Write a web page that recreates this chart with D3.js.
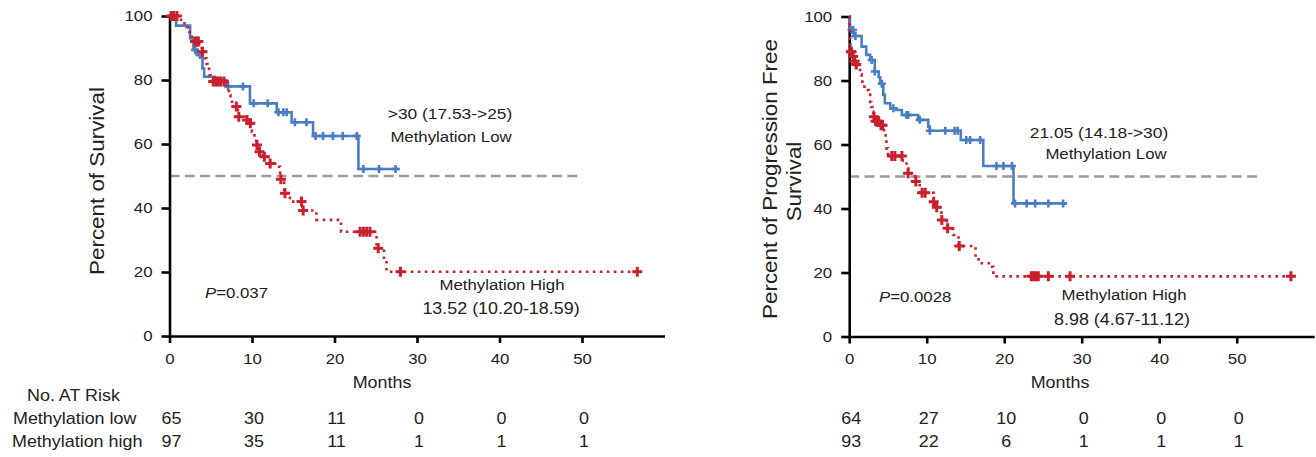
<!DOCTYPE html>
<html>
<head>
<meta charset="utf-8">
<script src="https://cdn.jsdelivr.net/npm/d3@7"></script>
<style>
  html, body { margin: 0; padding: 0; background: #fff; }
  svg { display: block; }
  text { font-family: "Liberation Sans", Arial, Helvetica, sans-serif; fill: #222; }
</style>
</head>
<body>
<svg id="chart" width="1316" height="457"></svg>
<script>
// Axis ticks
const timeTicks = [0, 10, 20, 30, 40, 50];
const pctTicks = [0, 20, 40, 60, 80, 100];

// Overall survival, methylation low: step times (months) and survival (%) after each step
const osLowTime = [0, 0.8, 2.5, 2.9, 3.3, 4.0, 4.2, 5.5, 6.9, 9.75, 13.0, 14.8, 17.4, 22.9];
const osLowSurv = [100, 97, 93, 89.4, 87.8, 83.6, 81, 80, 78, 72.7, 69.9, 66.8, 62.5, 52.2];
const osLowCensor = [0.3, 3.1, 3.7, 7.1, 8.9, 10.2, 11.9, 13.2, 13.8, 14.2, 15.2, 16.6, 17.7, 18.6, 19.8, 21.0, 22.7, 23.5, 25.4, 27.4];
const osLowEnd = 27.9;

// Overall survival, methylation high
const osHighTime = [0, 1.4, 2.1, 2.4, 2.7, 3.0, 3.6, 3.9, 4.3, 4.5, 4.6, 4.8, 5.0, 7.0, 7.2, 7.4, 7.8, 8.3, 9.2, 9.6, 10.0, 10.3, 10.5, 10.8, 11.3, 12.0, 12.8, 13.4, 13.9, 14.6, 16.1, 17.8, 20.8, 25.1, 26.0, 26.3];
const osHighSurv = [100, 97.7, 96.5, 95, 93.5, 92, 90.5, 88.8, 86.8, 85, 83.5, 81.5, 79.5, 77, 75.3, 73.2, 71.7, 68.5, 67.5, 66.5, 63.8, 61.5, 59.7, 57.6, 56, 53.9, 52.9, 49, 44.6, 42, 39.2, 36.3, 32.6, 27.4, 23.7, 20.1];
const osHighCensor = [0.2, 0.5, 0.9, 3.1, 3.3, 3.5, 4.0, 5.3, 5.6, 5.9, 6.2, 6.6, 8.1, 8.4, 9.4, 9.8, 10.6, 10.9, 11.5, 12.2, 13.5, 14.0, 16.0, 16.2, 23.1, 23.5, 23.9, 24.3, 25.3, 28.0, 56.7];
const osHighEnd = 56.7;

// Progression-free survival, methylation low
const pfsLowTime = [0, 0.1, 0.6, 1.6, 2.2, 2.7, 3.3, 3.8, 4.0, 4.4, 4.6, 5.3, 6.1, 6.8, 8.9, 10.2, 10.4, 14.4, 17.3, 21.2];
const pfsLowSurv = [100, 95.8, 93.9, 90.6, 88, 86.4, 82.8, 81, 79, 75.5, 72.9, 71.3, 70.8, 69.2, 67.7, 65.6, 64.3, 61.4, 53.3, 41.6];
const pfsLowCensor = [0.3, 0.5, 0.8, 2.9, 3.3, 4.2, 5.7, 7.4, 7.6, 9.1, 10.4, 12.4, 13.6, 14.0, 15.1, 15.6, 16.9, 19.0, 19.9, 21.0, 21.4, 22.9, 24.0, 25.7, 27.6];
const pfsLowEnd = 28.0;

// Progression-free survival, methylation high
const pfsHighTime = [0, 0.05, 0.1, 0.15, 0.4, 0.6, 0.8, 1.0, 1.4, 1.6, 1.7, 2.2, 2.5, 2.7, 2.85, 3.0, 3.1, 3.3, 4.0, 4.5, 4.7, 4.8, 5.0, 6.9, 7.4, 7.6, 8.5, 9.1, 10.9, 11.2, 11.9, 12.6, 13.4, 14.1, 16.3, 16.7, 18.2, 18.6];
const pfsHighSurv = [100, 97, 93, 89, 87.5, 86, 85, 83.3, 81.9, 80.1, 78.1, 77, 75.6, 73.3, 71.7, 70.3, 68.7, 67.3, 66, 64.5, 61.9, 58.8, 56.4, 54.5, 52.6, 51, 48.4, 44.9, 42.1, 40.4, 36.4, 33.8, 31.7, 28.3, 24.9, 22.9, 21.8, 18.8];
const pfsHighCensor = [0.2, 0.3, 0.5, 0.7, 0.9, 3.2, 3.4, 3.6, 3.8, 4.1, 4.3, 5.5, 5.9, 6.8, 7.6, 8.6, 9.4, 9.8, 10.9, 11.3, 11.95, 12.7, 14.2, 23.5, 23.8, 24.1, 24.4, 25.7, 28.5, 57.0];
const pfsHighEnd = 57.0;

// Numbers at risk
const riskTime = [0, 10, 20, 30, 40, 50];
const osRiskLow = [65, 30, 11, 0, 0, 0];
const osRiskHigh = [97, 35, 11, 1, 1, 1];
const pfsRiskLow = [64, 27, 10, 0, 0, 0];
const pfsRiskHigh = [93, 22, 6, 1, 1, 1];

const BLUE = "#4a7dc3";
const RED = "#c8202c";
const SX = 1.12; // horizontal stretch of the lettering

const svg = d3.select("#chart");
svg.append("rect").attr("width", 1316).attr("height", 457).attr("fill", "#fff");

function label(g, x, y, str, size, anchor = "middle", rotate = false) {
  return g.append("text")
    .attr("transform", `translate(${x},${y})${rotate ? " rotate(-90)" : ""} scale(${SX},1)`)
    .attr("text-anchor", anchor)
    .style("font-size", size + "px")
    .text(str);
}

function survAt(time, surv, t) {
  let s = surv[0];
  for (let i = 0; i < time.length; i++) if (time[i] <= t) s = surv[i];
  return s;
}

function drawCurve(g, x, y, time, surv, end, censor, style) {
  const pts = time.map((t, i) => [t, surv[i]]);
  pts.push([end, surv[surv.length - 1]]);
  const line = d3.line().x(d => x(d[0])).y(d => y(d[1])).curve(d3.curveStepAfter);
  const path = g.append("path")
    .attr("d", line(pts))
    .attr("fill", "none")
    .attr("stroke", style.color)
    .attr("stroke-width", style.width);
  if (style.dash) path.attr("stroke-dasharray", style.dash);
  const s = style.mark;
  g.append("g").selectAll("path").data(censor).join("path")
    .attr("d", t => {
      const cx = x(t), cy = y(survAt(time, surv, t));
      return `M${cx - s},${cy}H${cx + s}M${cx},${cy - s}V${cy + s}`;
    })
    .attr("stroke", style.color)
    .attr("stroke-width", style.markWidth)
    .attr("fill", "none");
}

function drawPanel(p) {
  const g = svg.append("g");
  const x = d3.scaleLinear().domain([0, 60]).range(p.xRange);
  const y = d3.scaleLinear().domain([0, 100]).range(p.yRange);

  // median reference line
  g.append("line")
    .attr("x1", x(0)).attr("x2", x(p.medianEnd))
    .attr("y1", y(50)).attr("y2", y(50))
    .attr("stroke", "#9b9b9b").attr("stroke-width", 2.6)
    .attr("stroke-dasharray", "10,5.3");

  // axes
  const yAxis = g.append("g").attr("transform", `translate(${x(0)},0)`)
    .call(d3.axisLeft(y).tickValues(pctTicks).tickSize(8).tickSizeOuter(0).tickPadding(7.2));
  const xAxis = g.append("g").attr("transform", `translate(0,${y(0)})`)
    .call(d3.axisBottom(x).tickValues(timeTicks).tickSize(7).tickSizeOuter(0).tickPadding(10));
  [yAxis, xAxis].forEach(a => {
    a.select(".domain").attr("stroke", "#000").attr("stroke-width", 2.6);
    a.selectAll(".tick line").attr("stroke", "#000").attr("stroke-width", 2.6);
    a.selectAll(".tick text")
      .attr("transform", `scale(${SX},1)`)
      .style("font-size", "15px")
      .style("font-family", '"Liberation Sans", Arial, sans-serif')
      .attr("fill", "#222");
  });

  // y title
  p.yTitle.forEach(t => label(g, t.x, t.y, t.text, 20, "middle", true));
  // x title
  label(g, p.monthsX, 388, "Months", 16);

  // curves
  drawCurve(g, x, y, p.low.time, p.low.surv, p.low.end, p.low.censor,
    { color: BLUE, width: 2.6, mark: 4, markWidth: 2.6 });
  drawCurve(g, x, y, p.high.time, p.high.surv, p.high.end, p.high.censor,
    { color: RED, width: 2.6, dash: "2.6,4.4", mark: 5, markWidth: 3 });

  // annotations
  p.notes.forEach(n => label(g, n.x, n.y, n.text, n.size));
  const pv = g.append("text")
    .attr("transform", `translate(${p.pval.x},${p.pval.y}) scale(${SX},1)`)
    .style("font-size", "15px");
  pv.append("tspan").style("font-style", "italic").text("P");
  pv.append("tspan").text("=" + p.pval.text);

  // numbers at risk
  riskTime.forEach((t, i) => {
    label(g, x(t) + 2, 424, String(p.riskLow[i]), 16);
    label(g, x(t) + 2, 447, String(p.riskHigh[i]), 16);
  });
}

drawPanel({
  xRange: [169.5, 664.5], yRange: [336, 16], medianEnd: 50, monthsX: 382,
  yTitle: [{ x: 104, y: 181, text: "Percent of Survival" }],
  low: { time: osLowTime, surv: osLowSurv, end: osLowEnd, censor: osLowCensor },
  high: { time: osHighTime, surv: osHighSurv, end: osHighEnd, censor: osHighCensor },
  notes: [
    { x: 450, y: 119, text: ">30 (17.53->25)", size: 15.5 },
    { x: 451, y: 142, text: "Methylation Low", size: 15 },
    { x: 502, y: 290, text: "Methylation High", size: 15 },
    { x: 501, y: 314, text: "13.52 (10.20-18.59)", size: 16 }
  ],
  pval: { x: 205, y: 298, text: "0.037" },
  riskLow: osRiskLow, riskHigh: osRiskHigh
});

drawPanel({
  xRange: [849.2, 1314.2], yRange: [336.5, 16.5], medianEnd: 53, monthsX: 1060,
  yTitle: [
    { x: 777, y: 179, text: "Percent of Progression Free" },
    { x: 801, y: 181.5, text: "Survival" }
  ],
  low: { time: pfsLowTime, surv: pfsLowSurv, end: pfsLowEnd, censor: pfsLowCensor },
  high: { time: pfsHighTime, surv: pfsHighSurv, end: pfsHighEnd, censor: pfsHighCensor },
  notes: [
    { x: 1099, y: 138, text: "21.05 (14.18->30)", size: 15.5 },
    { x: 1106, y: 158.5, text: "Methylation Low", size: 15 },
    { x: 1124, y: 300, text: "Methylation High", size: 15 },
    { x: 1122, y: 325, text: "8.98 (4.67-11.12)", size: 16 }
  ],
  pval: { x: 879, y: 302, text: "0.0028" },
  riskLow: pfsRiskLow, riskHigh: pfsRiskHigh
});

// risk table row labels
const tbl = svg.append("g");
label(tbl, 27, 401, "No. AT Risk", 16, "start");
label(tbl, 13, 424, "Methylation low", 16, "start");
label(tbl, 12, 447, "Methylation high", 16, "start");
</script>
</body>
</html>
